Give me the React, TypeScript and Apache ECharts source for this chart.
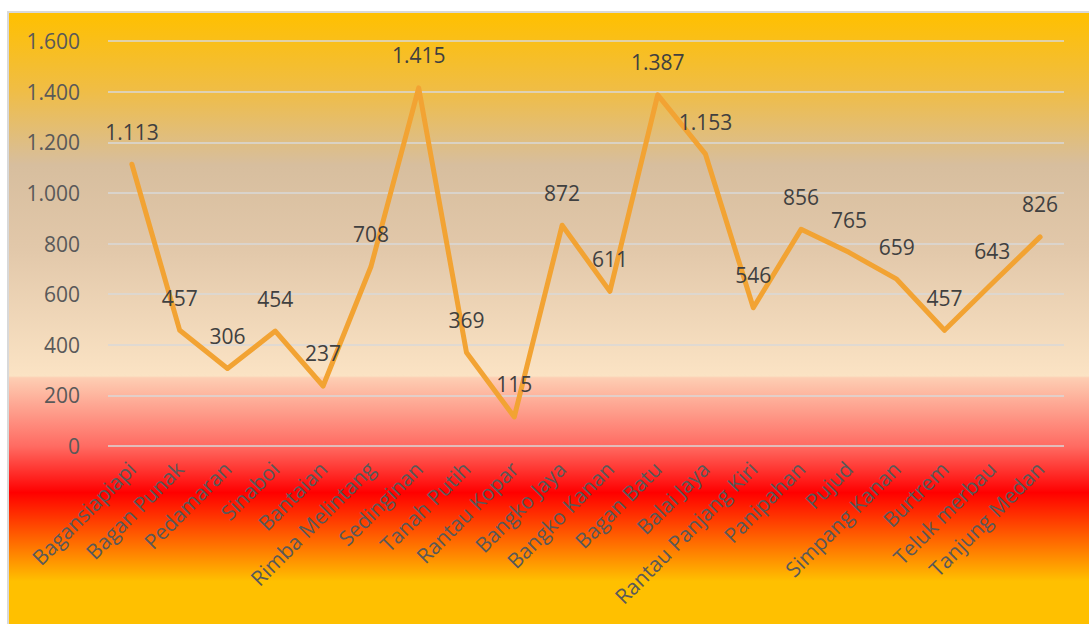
import React, { useEffect, useRef } from "react";
import * as echarts from "echarts";

const categories = [
  "Bagansiapiapi",
  "Bagan Punak",
  "Pedamaran",
  "Sinaboi",
  "Bantaian",
  "Rimba Melintang",
  "Sedinginan",
  "Tanah Putih",
  "Rantau Kopar",
  "Bangko Jaya",
  "Bangko Kanan",
  "Bagan Batu",
  "Balai Jaya",
  "Rantau Panjang Kiri",
  "Panipahan",
  "Pujud",
  "Simpang Kanan",
  "Burtrem",
  "Teluk merbau",
  "Tanjung Medan",
];

const values = [1113, 457, 306, 454, 237, 708, 1415, 369, 115, 872, 611, 1387, 1153, 546, 856, 765, 659, 457, 643, 826];

const yTicks = { min: 0, max: 1600, interval: 200 };

const fmt = (v: number) => String(Math.round(v)).replace(/\B(?=(\d{3})+(?!\d))/g, ".");

const FONT = "'Open Sans', 'Noto Sans', sans-serif";

export default function App() {
  const ref = useRef<HTMLDivElement>(null);
  useEffect(() => {
    if (!ref.current) return;
    const chart = echarts.init(ref.current, undefined, { renderer: "svg" });
    chart.setOption({
      animation: false,
      backgroundColor: new echarts.graphic.LinearGradient(0, 0, 0, 1, [
        { offset: 0, color: "#FFC000" },
        { offset: 0.126, color: "#F0BD45" },
        { offset: 0.249, color: "#D7BE9E" },
        { offset: 0.388, color: "#E2C8AA" },
        { offset: 0.594, color: "#FBE3C4" },
        { offset: 0.597, color: "#FDCEB3" },
        { offset: 0.709, color: "#FF6B62" },
        { offset: 0.785, color: "#FF0000" },
        { offset: 0.865, color: "#FF6A00" },
        { offset: 0.93, color: "#FFC000" },
        { offset: 1, color: "#FFC000" },
      ]),
      grid: { left: 99, right: 25, top: 28, bottom: 178, containLabel: false },
      xAxis: {
        type: "category",
        data: categories,
        boundaryGap: true,
        axisLine: { show: false },
        axisTick: { show: false },
        axisLabel: {
          rotate: 45,
          interval: 0,
          margin: 19,
          color: "#595959",
          fontSize: 21,
          fontFamily: FONT,
        },
      },
      yAxis: {
        type: "value",
        min: yTicks.min,
        max: yTicks.max,
        interval: yTicks.interval,
        axisLine: { show: false },
        axisTick: { show: false },
        splitLine: { lineStyle: { color: "#D9D9D9", width: 1.5 } },
        axisLabel: {
          margin: 28,
          color: "#595959",
          fontSize: 21,
          fontFamily: FONT,
          formatter: (v: number) => fmt(v),
        },
      },
      series: [
        {
          type: "line",
          data: values,
          symbol: "circle",
          symbolSize: 0.1,
          showSymbol: true,
          itemStyle: { color: "#F2A333" },
          lineStyle: { color: "#F2A333", width: 5, cap: "round", join: "round" },
          label: {
            show: true,
            position: "top",
            distance: 22,
            color: "#404040",
            fontSize: 21,
            fontFamily: FONT,
            formatter: (p: any) => fmt(p.value),
          },
          labelLayout: { hideOverlap: false },
        },
      ],
    });
    return () => chart.dispose();
  }, []);
  return (
    <div
      style={{
        position: "fixed",
        left: 7,
        top: 11,
        width: 1082,
        height: 613,
        borderLeft: "2px solid #D9D9D9",
        borderTop: "2px solid #D9D9D9",
        boxSizing: "border-box",
      }}
    >
      <div ref={ref} style={{ width: 1080, height: 611 }} />
    </div>
  );
}
